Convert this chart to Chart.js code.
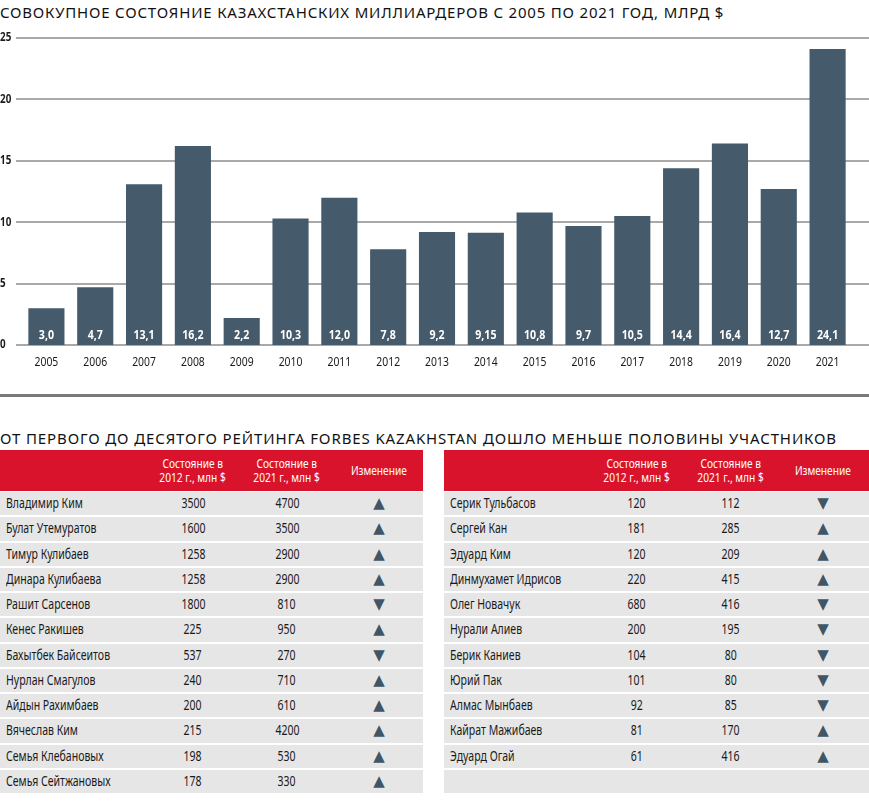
<!DOCTYPE html>
<html><head><meta charset="utf-8">
<script src="https://cdn.jsdelivr.net/npm/chart.js@4.4.0/dist/chart.umd.min.js"></script>
<style>
html,body{margin:0;padding:0;background:#fff;}
body{width:869px;height:805px;overflow:hidden;position:relative;}
.ttl{position:absolute;left:0;font-family:'Noto Sans',sans-serif;font-size:15px;color:#111;white-space:nowrap;line-height:18px;letter-spacing:0.8px;}
#t1{top:3px;}
#t2{top:429px;letter-spacing:0.88px;}
#sep{position:absolute;left:0;top:394px;width:869px;height:3px;background:#7a7a7a;}
#chartbox{position:absolute;left:0;top:0;width:869px;height:380px;}
.tbl{position:absolute;top:450px;width:425px;font-family:'Noto Sans',sans-serif;color:#1a1a1a;}
.hdr{position:absolute;left:0;top:0;width:100%;height:41px;background:#d8132b;color:#fff;font-size:13px;line-height:14px;}
.hdr > div{position:absolute;text-align:center;width:100px;}
.sx{display:inline-block;transform:scaleX(0.78);transform-origin:center;white-space:nowrap;}
.row{position:absolute;left:0;width:100%;height:23.4px;background:#e6e6e6;font-size:13.5px;line-height:23.4px;}
.row > div{position:absolute;top:0;white-space:nowrap;}
.row .nm{left:6px;}
.row .nm .sx{transform-origin:left center;}
.row .c{width:90px;text-align:center;}
.tri{color:#3f5668;font-family:'DejaVu Sans',sans-serif;font-size:15px;}
</style></head>
<body>
<div id="t1" class="ttl">СОВОКУПНОЕ СОСТОЯНИЕ КАЗАХСТАНСКИХ МИЛЛИАРДЕРОВ С 2005 ПО 2021 ГОД, МЛРД $</div>
<div id="chartbox"><canvas id="c" width="869" height="380"></canvas></div>
<div id="sep"></div>
<div id="t2" class="ttl">ОТ ПЕРВОГО ДО ДЕСЯТОГО РЕЙТИНГА FORBES KAZAKHSTAN ДОШЛО МЕНЬШЕ ПОЛОВИНЫ УЧАСТНИКОВ</div>
<div id="tl" class="tbl" style="left:0;width:423px;"></div>
<div id="tr" class="tbl" style="left:444px;"></div>
<script>
const years = ['2005','2006','2007','2008','2009','2010','2011','2012','2013','2014','2015','2016','2017','2018','2019','2020','2021'];
const wealth = [3.0,4.7,13.1,16.2,2.2,10.3,12.0,7.8,9.2,9.15,10.8,9.7,10.5,14.4,16.4,12.7,24.1];
const yTicks = [0,5,10,15,20,25];

const colHeaders = ['Состояние в\n2012 г., млн $','Состояние в\n2021 г., млн $','Изменение'];

const leftNames = ['Владимир Ким','Булат Утемуратов','Тимур Кулибаев','Динара Кулибаева','Рашит Сарсенов','Кенес Ракишев','Бахытбек Байсеитов','Нурлан Смагулов','Айдын Рахимбаев','Вячеслав Ким','Семья Клебановых','Семья Сейтжановых'];
const left2012 = [3500,1600,1258,1258,1800,225,537,240,200,215,198,178];
const left2021 = [4700,3500,2900,2900,810,950,270,710,610,4200,530,330];

const rightNames = ['Серик Тульбасов','Сергей Кан','Эдуард Ким','Динмухамет Идрисов','Олег Новачук','Нурали Алиев','Берик Каниев','Юрий Пак','Алмас Мынбаев','Кайрат Мажибаев','Эдуард Огай'];
const right2012 = [120,181,120,220,680,200,104,101,92,81,61];
const right2021 = [112,285,209,415,416,195,80,80,85,170,416];

const BAR = '#455a6b';
const CF = "'Noto Sans',sans-serif";

function fmt(v){
  const d = Math.round(v*100)%10 !== 0 ? 2 : 1;
  return v.toFixed(d).replace('.',',');
}
function narrowText(ctx, text, x, y, sx, align){
  ctx.save();
  ctx.translate(x, y);
  ctx.scale(sx, 1);
  ctx.textAlign = align;
  ctx.fillText(text, 0, 0);
  ctx.restore();
}

const gridPlugin = {
  id:'fullGrid',
  beforeDatasetsDraw(chart){
    const y = chart.scales.y, ctx = chart.ctx;
    ctx.save();
    ctx.strokeStyle = '#a9a9a9';
    ctx.lineWidth = 2;
    yTicks.forEach(t=>{
      const py = Math.round(y.getPixelForValue(t));
      ctx.beginPath();
      ctx.moveTo(chart.chartArea.left-6, py);
      ctx.lineTo(chart.width, py);
      ctx.stroke();
    });
    ctx.restore();
  }
};
const tickPlugin = {
  id:'narrowTicks',
  afterDraw(chart){
    const ctx = chart.ctx, x = chart.scales.x, y = chart.scales.y;
    ctx.save();
    ctx.fillStyle = '#1a1a1a';
    ctx.textBaseline = 'middle';
    ctx.font = 'bold 12px ' + CF;
    y.ticks.forEach((t,i)=>{
      narrowText(ctx, String(t.value), 0, y.getPixelForTick(i), 0.82, 'left');
    });
    ctx.font = '13px ' + CF;
    x.ticks.forEach((t,i)=>{
      narrowText(ctx, years[i], x.getPixelForTick(i), chart.chartArea.bottom + 17, 0.8, 'center');
    });
    ctx.restore();
  }
};
const labelPlugin = {
  id:'barLabels',
  afterDatasetsDraw(chart){
    const ctx = chart.ctx, meta = chart.getDatasetMeta(0), y = chart.scales.y;
    const base = y.getPixelForValue(0);
    ctx.save();
    ctx.fillStyle = '#fff';
    ctx.font = 'bold 12.5px ' + CF;
    ctx.textBaseline = 'middle';
    meta.data.forEach((bar,i)=>{
      narrowText(ctx, fmt(wealth[i]), bar.x, base-10, 0.85, 'center');
    });
    ctx.restore();
  }
};

new Chart(document.getElementById('c'), {
  type:'bar',
  data:{labels:years, datasets:[{data:wealth, backgroundColor:BAR, borderWidth:0, categoryPercentage:1, barPercentage:0.74}]},
  options:{
    responsive:false, animation:false,
    layout:{padding:{top:38,left:0,right:17,bottom:0}},
    plugins:{legend:{display:false}, tooltip:{enabled:false}},
    scales:{
      x:{
        grid:{display:false,drawTicks:false}, border:{display:false},
        ticks:{display:false, autoSkip:false},
        afterFit(s){ s.height = 35; }
      },
      y:{
        min:0,max:25,
        grid:{display:false,drawTicks:false}, border:{display:false},
        ticks:{display:false, stepSize:5},
        afterFit(s){ s.width = 22; }
      }
    }
  },
  plugins:[gridPlugin,labelPlugin,tickPlugin]
});

function buildTable(el, names, v12, v21, totalRows){
  const centers = [193, 287, 379];
  let h = '<div class="hdr">';
  colHeaders.forEach((t,i)=>{
    const lines = t.split('\n');
    const top = lines.length===2 ? 6 : 13;
    h += `<div style="left:${centers[i]-50}px;top:${top}px;">` + lines.map(l=>`<span class="sx">${l}</span>`).join('<br>') + `</div>`;
  });
  h += '</div>';
  for(let i=0;i<totalRows;i++){
    const top = 42 + i*25.25;
    h += `<div class="row" style="top:${top}px;">`;
    if(i<names.length){
      const up = v21[i] > v12[i];
      h += `<div class="nm"><span class="sx">${names[i]}</span></div>`;
      h += `<div class="c" style="left:${centers[0]-45}px;"><span class="sx">${v12[i]}</span></div>`;
      h += `<div class="c" style="left:${centers[1]-45}px;"><span class="sx">${v21[i]}</span></div>`;
      h += `<div class="c tri" style="left:${centers[2]-45}px;">${up?'▲':'▼'}</div>`;
    }
    h += '</div>';
  }
  el.innerHTML = h;
}
buildTable(document.getElementById('tl'), leftNames, left2012, left2021, 12);
buildTable(document.getElementById('tr'), rightNames, right2012, right2021, 12);
</script>
</body></html>
